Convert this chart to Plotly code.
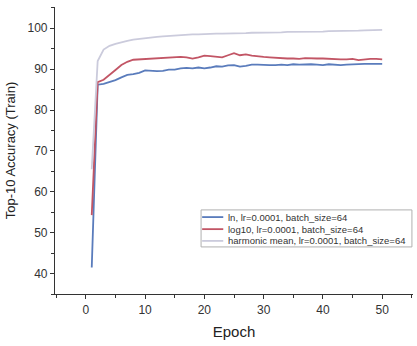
import plotly.graph_objects as go

epochs = list(range(1, 51))
ln_acc = [41.5, 86.2, 86.4, 86.8, 87.3, 88.0, 88.6, 88.8, 89.1, 89.7,
          89.6, 89.5, 89.6, 89.9, 89.9, 90.2, 90.3, 90.2, 90.4, 90.2,
          90.4, 90.7, 90.6, 90.9, 91.0, 90.6, 90.8, 91.1, 91.1, 91.0,
          91.0, 91.0, 91.1, 91.0, 91.2, 91.1, 91.2, 91.2, 91.1, 91.0,
          91.2, 91.1, 91.0, 91.1, 91.2, 91.2, 91.3, 91.3, 91.3, 91.3]
log10_acc = [54.3, 86.8, 87.4, 88.5, 89.8, 91.0, 91.8, 92.3, 92.4, 92.5,
             92.5, 92.7, 92.7, 92.8, 92.9, 93.0, 92.9, 92.6, 92.9, 93.3,
             93.2, 93.0, 92.9, 93.4, 93.9, 93.4, 93.6, 93.3, 93.1, 93.0,
             92.9, 92.8, 92.6, 92.6, 92.6, 92.5, 92.7, 92.6, 92.6, 92.6,
             92.5, 92.5, 92.4, 92.4, 92.5, 92.2, 92.4, 92.5, 92.5, 92.4]
harm_acc = [65.5, 92.0, 94.8, 95.7, 96.2, 96.6, 96.9, 97.2, 97.4, 97.6,
            97.7, 97.9, 98.0, 98.1, 98.3, 98.3, 98.4, 98.5, 98.5, 98.6,
            98.6, 98.7, 98.7, 98.7, 98.8, 98.8, 98.8, 98.9, 98.9, 99.0,
            99.0, 99.0, 99.0, 99.1, 99.1, 99.1, 99.1, 99.2, 99.2, 99.2,
            99.3, 99.3, 99.3, 99.4, 99.4, 99.4, 99.5, 99.5, 99.5, 99.6]

names = ["ln, lr=0.0001, batch_size=64",
         "log10, lr=0.0001, batch_size=64",
         "harmonic mean, lr=0.0001, batch_size=64"]
colors = ["#5a7cbc", "#c25565", "#cbcbdc"]

FONT = "Liberation Sans, Arial"

fig = go.Figure()
for name, ys, c in zip(names, [ln_acc, log10_acc, harm_acc], colors):
    fig.add_trace(go.Scatter(x=epochs, y=ys, mode="lines", name=name,
                             line=dict(color=c, width=1.8), showlegend=False))

axis_common = dict(showgrid=False, zeroline=False, showline=True,
                   linecolor="#333333", linewidth=1.2, ticks="outside",
                   ticklen=4, tickcolor="#333333",
                   tickfont=dict(size=12, color="#333333", family=FONT),
                   mirror=False)

fig.update_xaxes(range=[-5.2, 55.2], tick0=0, dtick=10,
                 minor=dict(ticks="outside", dtick=5, ticklen=3, tickcolor="#333333"),
                 title=dict(text="Epoch", font=dict(size=15, color="#222222", family=FONT), standoff=10),
                 **axis_common)
fig.update_yaxes(range=[35, 105.2], tick0=40, dtick=10,
                 minor=dict(ticks="outside", dtick=5, ticklen=3, tickcolor="#333333"),
                 title=dict(text="Top-10 Accuracy (Train)", font=dict(size=13, color="#222222", family=FONT), standoff=8),
                 **axis_common)

# compact legend box drawn in paper coordinates
shapes = [dict(type="rect", xref="paper", yref="paper", x0=0.408, x1=0.997,
               y0=0.164, y1=0.293, line=dict(color="#b0b0b0", width=1),
               fillcolor="white", layer="above")]
annotations = []
row_y = [0.268, 0.226, 0.185]
for name, c, yy in zip(names, colors, row_y):
    shapes.append(dict(type="line", xref="paper", yref="paper", x0=0.411, x1=0.470,
                       y0=yy, y1=yy, line=dict(color=c, width=1.8), layer="above"))
    annotations.append(dict(xref="paper", yref="paper", x=0.479, y=yy, text=name,
                            showarrow=False, xanchor="left", yanchor="middle",
                            font=dict(size=9.5, color="#333333", family=FONT)))

fig.update_layout(
    width=417, height=346,
    margin=dict(l=55, r=4, t=7, b=52),
    paper_bgcolor="white", plot_bgcolor="white",
    shapes=shapes, annotations=annotations,
)

fig.write_html("out.html")
